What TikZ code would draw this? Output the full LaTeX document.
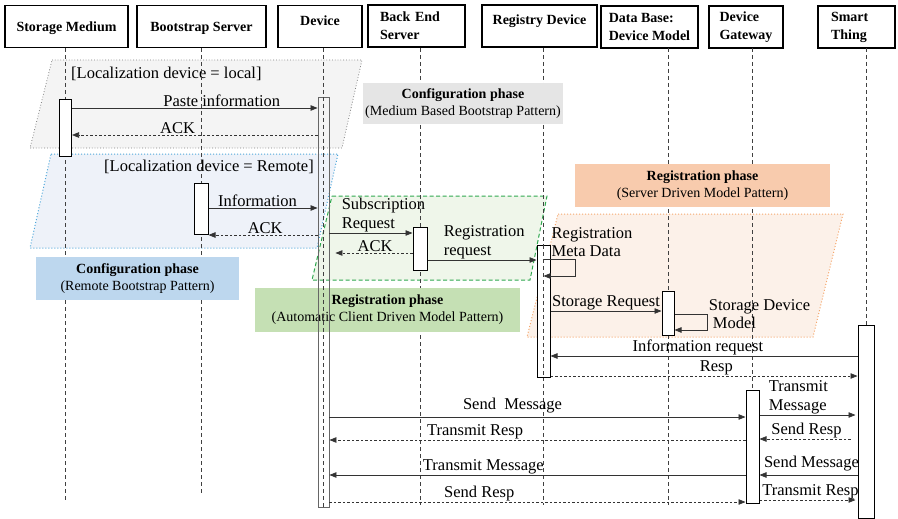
\documentclass[tikz,border=0pt]{standalone}
\usepackage{fontspec}
\setmainfont{Liberation Serif}
\usetikzlibrary{arrows.meta}
\definecolor{frmgray}{HTML}{F4F4F4}
\definecolor{frmblue}{HTML}{EEF2F9}
\definecolor{frmgreen}{HTML}{EFF6EA}
\definecolor{frmorange}{HTML}{FCF1E9}
\definecolor{lnblue}{HTML}{4EA7DA}
\definecolor{lngreen}{HTML}{2FA84F}
\definecolor{lnorange}{HTML}{F5A66B}
\definecolor{phgray}{HTML}{E5E5E5}
\definecolor{phblue}{HTML}{BDD7EE}
\definecolor{phgreen}{HTML}{C5E0B4}
\definecolor{phorange}{HTML}{F8CBAD}
\begin{document}
\begin{tikzpicture}[x=1pt,y=-1pt,
  hdr/.style={draw, line width=1.1pt, minimum height=42pt, inner sep=2pt,
    font=\fontsize{14}{18}\selectfont\bfseries, align=left},
  life/.style={black!75, line width=0.6pt, dash pattern=on 4pt off 3pt},
  bar/.style={draw, line width=1pt, fill=white, minimum width=12pt, anchor=north, inner sep=0pt},
  msg/.style={black!80, line width=0.7pt, -{Triangle[length=7pt,width=5.5pt]}},
  rsp/.style={msg, dash pattern=on 2.5pt off 2pt},
  lbl/.style={font=\fontsize{16.5}{18.5}\selectfont, inner sep=1pt, text=black},
  phase/.style={font=\fontsize{14}{17}\selectfont, align=center, inner sep=0pt}]
\useasboundingbox (0,0) rectangle (898,519);

% frames
\filldraw[fill=frmgray, draw=black!50, dotted, line width=0.8pt] (52,60) -- (362,60) -- (342,148) -- (30,148) -- cycle;
\filldraw[fill=frmblue, draw=lnblue, dotted, line width=1pt] (51,154) -- (338,154) -- (317,248) -- (30,248) -- cycle;
\filldraw[fill=frmgreen, draw=lngreen, dash pattern=on 4pt off 2.5pt, line width=1pt] (332,196) -- (547,196) -- (530,280) -- (312,280) -- cycle;
\filldraw[fill=frmorange, draw=lnorange, dotted, line width=1pt] (558,214) -- (843,214) -- (813,337) -- (527,337) -- cycle;
\node[lbl, anchor=west] (loclocal) at (70,74) {[Localization device = local]};
\node[lbl, anchor=west] (locremote) at (103,167) {[Localization device = Remote]};

% heads
\node[hdr, minimum width=123pt, text height=11pt, text depth=0pt] (sm) at (66.5,26.5) {Storage Medium};
\node[hdr, minimum width=129pt, text height=11pt, text depth=0pt] (bs) at (201.5,26.5) {Bootstrap Server};
\node[hdr, minimum width=84pt, text depth=11pt] (dev) at (320,26.5) {Device};
\node[hdr, minimum width=97pt, text width=73pt] (be) at (416.5,26) {Back End\\Server};
\node[hdr, minimum width=115pt, text depth=13pt] (rd) at (539.5,26) {Registry Device};
\node[hdr, minimum width=97pt] (db) at (649.5,27) {Data Base:\\Device Model};
\node[hdr, minimum width=74pt] (gw) at (746,27) {Device\\Gateway};
\node[hdr, minimum width=77pt, text width=51pt] (st) at (856.5,27) {Smart\\Thing};

% lifelines
\coordinate (smL) at (65.5,48);
\coordinate (bsL) at (201,48);
\coordinate (devL) at (323.5,48);
\coordinate (beL) at (420,48);
\coordinate (rdL) at (543.5,48);
\coordinate (dbL) at (668,48);
\coordinate (gwL) at (752.5,48);
\coordinate (stL) at (866,48);
\foreach \l/\e in {smL/500, bsL/495, devL/507, beL/505, rdL/505, dbL/505, gwL/503, stL/330}
  \draw[life] (\l) -- (\l |- 0,\e);

% phases
\node[phase, fill=phgray, minimum width=200pt, minimum height=41pt] (phmed) at (463,103.5)
  {\textbf{Configuration phase}\\(Medium Based Bootstrap Pattern)};
\node[phase, fill=phblue, minimum width=203pt, minimum height=43pt] (phrem) at (137.5,278.5)
  {\textbf{Configuration phase}\\(Remote Bootstrap Pattern)};
\node[phase, fill=phgreen, minimum width=265pt, minimum height=44pt] (phcli) at (387.5,310)
  {\textbf{Registration phase}\\(Automatic Client Driven Model Pattern)};
\node[phase, fill=phorange, minimum width=255pt, minimum height=43pt] (phsrv) at (702.5,185.5)
  {\textbf{Registration phase}\\(Server Driven Model Pattern)};

% activations
\node[bar, minimum height=57pt] (smbar) at (smL |- 0,99) {};
\node[bar, minimum height=51pt, minimum width=14pt] (bsbar) at (bsL |- 0,183) {};
\node[bar, minimum height=410pt, minimum width=11pt, draw=black!60, fill=none, line width=0.9pt] (devbar) at (devL |- 0,97) {};
\node[bar, minimum height=43pt, minimum width=14pt] (bebar) at (beL |- 0,227) {};
\node[bar, minimum height=132pt, minimum width=13pt] (rdbar) at (rdL |- 0,245) {};
\node[bar, minimum height=44pt, minimum width=12pt] (dbbar) at (dbL |- 0,291) {};
\node[bar, minimum height=113pt, minimum width=13pt] (gwbar) at (gwL |- 0,390) {};
\node[bar, minimum height=193pt, minimum width=16pt] (stbar) at (stL |- 0,325) {};
\draw[life] (devbar.north) -- (devbar.south);
\draw[life] (rdbar.north) -- (rdbar.south);

% configuration, local
\draw[msg] (smbar.east |- 0,108) -- node[lbl, above, pos=0.61] (m1) {Paste information} (devbar.west |- 0,108);
\draw[rsp] (devbar.west |- 0,135) -- node[lbl, above, pos=0.57] (m2) {ACK} (smbar.east |- 0,135);
% configuration, remote
\draw[msg] (bsbar.east |- 0,208) -- node[lbl, above, pos=0.45] (m3) {Information} (devbar.west |- 0,208);
\draw[rsp] (devbar.west |- 0,235) -- node[lbl, above, pos=0.48] (m4) {ACK} (bsbar.east |- 0,235);

% registration, client driven
\draw[msg] (devbar.east |- 0,233) -- node[lbl, pos=0, anchor=south west, align=left, xshift=11pt] (m5) {Subscription\\Request} (bebar.west |- 0,233);
\draw[rsp, shorten >=6pt] (bebar.west |- 0,253) -- node[lbl, above, pos=0.45] (m6) {ACK} (devbar.east |- 0,253);
\draw[msg] (bebar.east |- 0,260) -- node[lbl, pos=0, anchor=south west, align=left, xshift=15pt] (m7) {Registration\\request} (rdbar.west |- 0,260);

% registration, server driven
\draw[msg] (rdbar |- 0,259) -- ++(32,0) -- ++(0,17) -- (rdbar |- 0,276);
\node[lbl, anchor=south west, align=left] (m8) at (rdbar.east |- 0,258) {Registration\\Meta Data};
\draw[msg] (rdbar.east |- 0,311) -- node[lbl, above] (m9) {Storage Request} (dbbar.west |- 0,311);
\draw[msg] (dbbar.east |- 0,314) -- ++(33,0) node[lbl, anchor=west, align=left] (m10) {Storage Device\\\hspace*{4pt}Model} -- ++(0,16) -- (dbbar.east |- 0,330);
\draw[msg] (stbar.west |- 0,356) -- node[lbl, above, pos=0.52] (m11) {Information request} (rdbar.east |- 0,356);
\draw[rsp] (rdbar.east |- 0,376) -- node[lbl, above, pos=0.54] (m12) {Resp} (stbar.west |- 0,376);

% messaging
\draw[msg] (devbar.east |- 0,417) -- node[lbl, above=3pt, pos=0.44] (m13) {Send~ Message} (gwbar.west |- 0,417);
\draw[rsp] (gwbar.west |- 0,440) -- node[lbl, above, pos=0.65] (m14) {Transmit Resp} (devbar.east |- 0,440);
\draw[msg] (gwbar.west |- 0,475) -- node[lbl, above, pos=0.63] (m15) {Transmit Message} (devbar.east |- 0,475);
\draw[rsp] (devbar.east |- 0,502) -- node[lbl, above, pos=0.36] (m16) {Send Resp} (gwbar.west |- 0,502);
\draw[msg, shorten >=2pt] (gwbar.east |- 0,415) -- node[lbl, pos=0, anchor=south west, align=left, xshift=8pt] (m17) {Transmit\\Message} (stbar.west |- 0,415);
\draw[rsp, shorten <=7pt] (stbar.west |- 0,439) -- node[lbl, above, pos=0.52] (m18) {Send Resp} (gwbar.east |- 0,439);
\draw[msg] (stbar.west |- 0,475) -- node[lbl, above=3pt, pos=0.47] (m19) {Send Message} (gwbar.east |- 0,475);
\draw[rsp, shorten >=2pt] (gwbar.east |- 0,500) -- node[lbl, above, pos=0.52] (m20) {Transmit Resp} (stbar.west |- 0,500);
\end{tikzpicture}
\end{document}
